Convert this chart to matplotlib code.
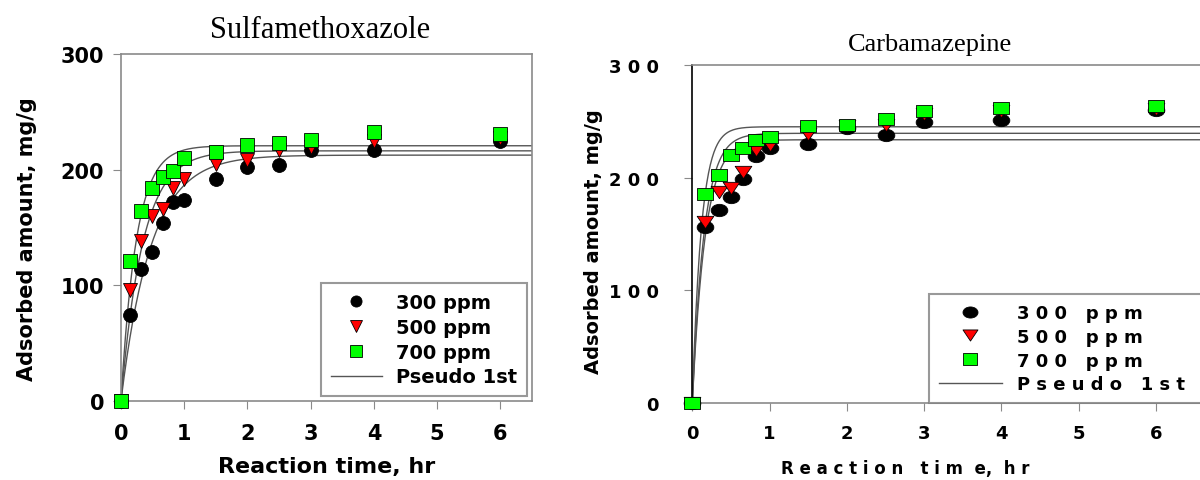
import matplotlib
matplotlib.use("Agg")
import matplotlib.pyplot as plt
from matplotlib.path import Path
import numpy as np

# time points (hr)
time_smx = [0, 0.15, 0.32, 0.49, 0.66, 0.83, 1.0, 1.5, 2.0, 2.5, 3.0, 4.0, 6.0]
time_cbz = [0, 0.16, 0.34, 0.5, 0.66, 0.83, 1.0, 1.5, 2.0, 2.5, 3.0, 4.0, 6.0]

# Sulfamethoxazole adsorbed amount, mg/g
smx_300 = [0, 74, 114, 129, 154, 172, 174, 192, 202, 204, 217, 217, 225]
smx_500 = [0, 96, 138, 160, 166, 184, 192, 205, 208, 217, 220, 225, 227]
smx_700 = [0, 121, 164, 184, 194, 199, 210, 215, 221, 223, 226, 233, 231]

# Carbamazepine adsorbed amount, mg/g
cbz_300 = [0, 156, 171, 183, 199, 219, 226, 230, 244, 238, 249, 251, 260]
cbz_500 = [0, 161, 187, 191, 205, 224, 229, 239, 246, 247, 256, 259, 261]
cbz_700 = [0, 185, 202, 220, 226, 233, 236, 246, 247, 252, 259, 262, 263]

# pseudo first order fit parameters (qe, k1) for 300 / 500 / 700 ppm
smx_qe = [212.6, 216.3, 220.7]
smx_k = [2.1, 2.9, 4.1]
cbz_qe = [233.5, 239.2, 245.0]
cbz_k = [6.0, 6.5, 8.5]

labels_smx = ["300 ppm", "500 ppm", "700 ppm", "Pseudo 1st"]
labels_cbz = ["3 0 0   p p m", "5 0 0   p p m", "7 0 0   p p m", "P s e u d o   1 s t"]

colors = ["black", "red", "#00ff00"]


def stretched(verts, sx=1.35):
    # markers on the right panel look squashed horizontally wide
    v = np.asarray(verts, float) * [sx, 1.0]
    return Path(v, closed=True)


circ = Path.unit_circle()
wide_markers = [Path(circ.vertices * [1.35, 1.0], circ.codes),
                stretched([(0, -1), (-1, 1), (1, 1), (0, -1)]),
                stretched([(-1, -1), (1, -1), (1, 1), (-1, 1), (-1, -1)], 1.3)]
plain_markers = ["o", "v", "s"]

plt.rcParams['font.family'] = ['DejaVu Sans']
fig = plt.figure(figsize=(12, 4.81), dpi=100)


def draw(ax, t, series, qe, k, markers, ms):
    tt = np.linspace(0, 7, 600)
    handles = []
    for s, m, c in zip(series, markers, colors):
        h, = ax.plot(t, s, ls="none", marker=m, color=c, mec="black", ms=ms, mew=0.6,
                     clip_on=False, zorder=3)
        handles.append(h)
    for q, kk in zip(qe, k):
        ln, = ax.plot(tt, q * (1 - np.exp(-kk * tt)), color="#555555", lw=1.0, zorder=2)
    handles.append(ln)
    return handles


# ---- left: Sulfamethoxazole
ax1 = fig.add_axes([0.1008, 0.1642, 0.3425, 0.7214])
h1 = draw(ax1, time_smx, [smx_300, smx_500, smx_700], smx_qe, smx_k, plain_markers, 10)
ax1.set_xlim(0, 6.5)
ax1.set_ylim(0, 300)
ax1.set_xticks([0, 1, 2, 3, 4, 5, 6])
ax1.set_yticks([0, 100, 200, 300])
for sp in ax1.spines.values():
    sp.set_color("#8a8a8a")
    sp.set_linewidth(1.2)
ax1.tick_params(direction="out", length=6, color="#8a8a8a", labelsize=15)
ax1.tick_params(axis="x", pad=10)
ax1.tick_params(axis="y", pad=6)
for lab in ax1.get_xticklabels() + ax1.get_yticklabels():
    lab.set_fontweight("bold")
ax1.set_xlabel("Reaction time, hr", fontsize=16, fontweight="bold", labelpad=9)
ax1.set_ylabel("Adsorbed amount, mg/g", fontsize=15, fontweight="bold")
ax1.yaxis.set_label_coords(-0.205, 0.47)
fig.text(0.2667, 0.9376, "Sulfamethoxazole", family="Liberation Serif", fontsize=22,
         ha="center", va="center")
leg1 = ax1.legend(h1, labels_smx, loc="lower right", frameon=True, fancybox=False,
                  edgecolor="#808080", borderpad=0.5, handlelength=2.6, markerscale=0.8,
                  handletextpad=0.75, labelspacing=0.3, borderaxespad=0.25,
                  prop=dict(weight="bold", size=14))
leg1.get_frame().set_linewidth(1.5)

# ---- right: Carbamazepine
ax2 = fig.add_axes([0.5769, 0.1595, 0.438, 0.7039])
h2 = draw(ax2, time_cbz, [cbz_300, cbz_500, cbz_700], cbz_qe, cbz_k, wide_markers, 12)
ax2.set_xlim(0, 6.8)
ax2.set_ylim(0, 300)
ax2.set_xticks([0, 1, 2, 3, 4, 5, 6])
ax2.set_yticks([0, 100, 200, 300])
ax2.set_yticklabels(["0", "1 0 0", "2 0 0", "3 0 0"])
for sp in ax2.spines.values():
    sp.set_color("#8a8a8a")
    sp.set_linewidth(1.2)
ax2.spines["left"].set_color("black")
ax2.tick_params(direction="out", length=6, color="#8a8a8a", labelsize=13)
ax2.tick_params(axis="x", pad=9)
ax2.tick_params(axis="y", pad=18)
for lab in ax2.get_xticklabels() + ax2.get_yticklabels():
    lab.set_fontweight("bold")
ax2.set_xlabel("R e a c t i o n   t i m  e,  h r", fontsize=12, fontweight="bold",
               labelpad=12, x=0.405)
ax2.set_ylabel("Adsorbed amount, mg/g", fontsize=14, fontweight="bold")
ax2.yaxis.set_label_coords(-0.17, 0.48)
fig.text(0.775, 0.9064, "Carbamazepine", family="Liberation Serif", fontsize=19,
         ha="center", va="center")
# legend box runs off the right edge of the picture, like in the source figure
leg2 = ax2.legend(h2, labels_cbz, loc="lower left", bbox_to_anchor=(0.45, 0.0, 0.6, 0.3),
                  mode="expand", frameon=True, fancybox=False, edgecolor="#808080",
                  borderpad=0.55, handlelength=3.5, handletextpad=0.85, labelspacing=0.32,
                  markerscale=0.9, borderaxespad=0.0, prop=dict(weight="bold", size=13))
leg2.get_frame().set_linewidth(1.5)

fig.savefig("out.png", dpi=100)
